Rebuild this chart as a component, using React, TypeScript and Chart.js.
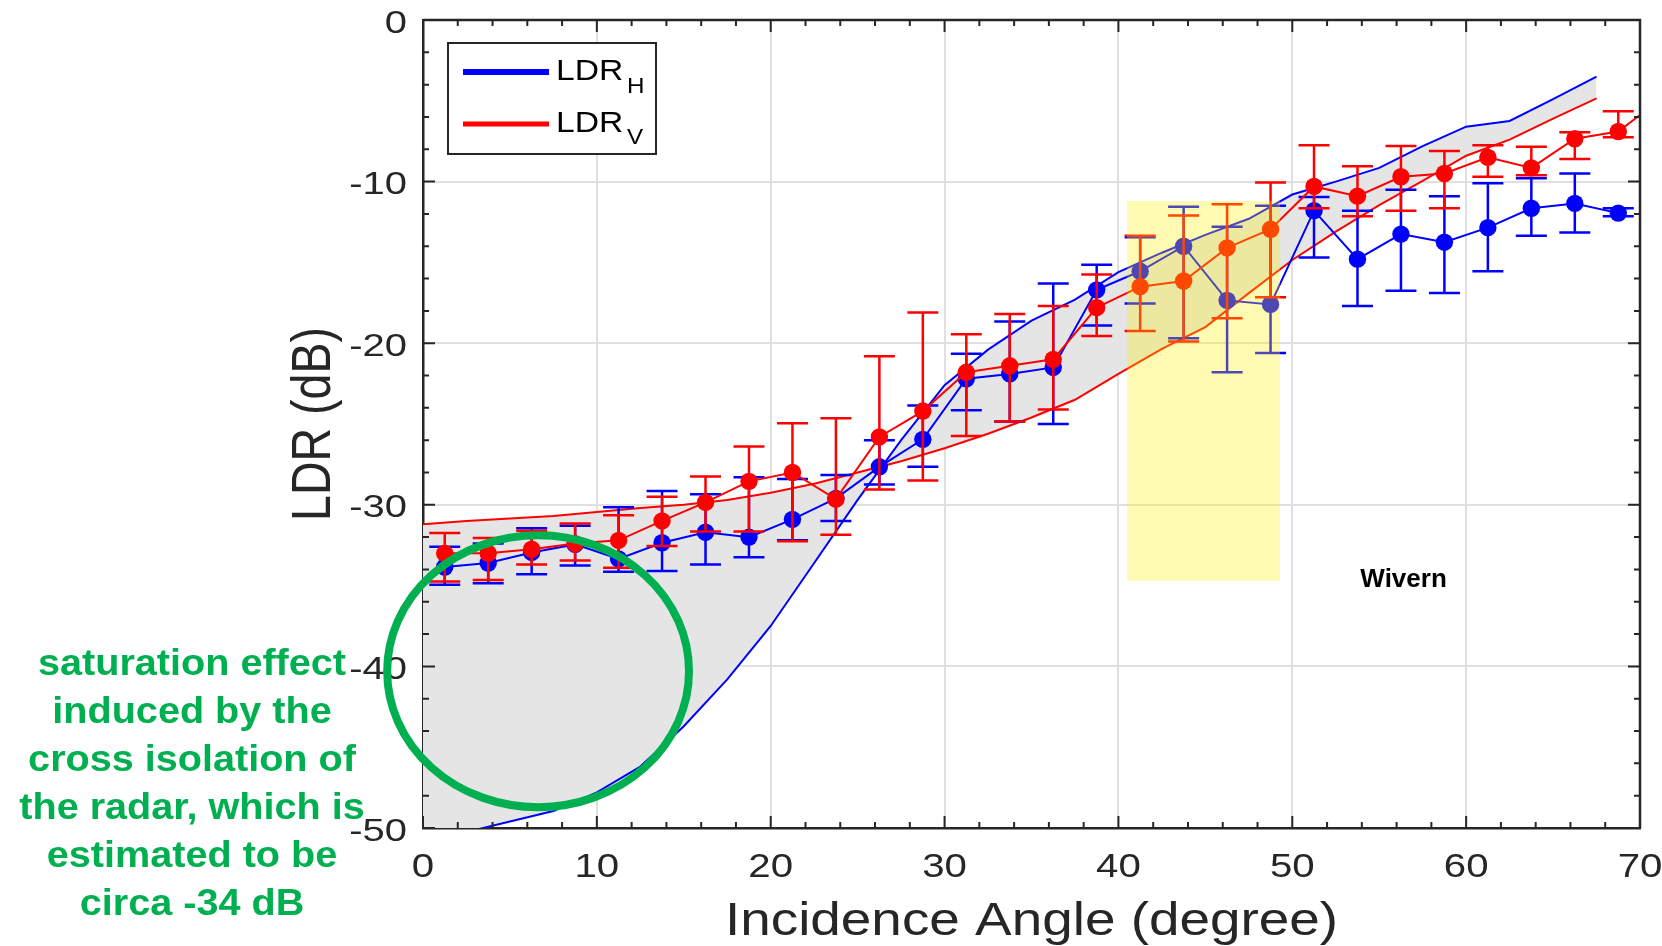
import React, { useEffect, useRef } from 'react';
import { Chart, registerables } from 'chart.js';

Chart.register(...registerables);

// ---------------- data ----------------
const angles = [1.25, 3.75, 6.25, 8.75, 11.25, 13.75, 16.25, 18.75, 21.25, 23.75, 26.25, 28.75, 31.25, 33.75, 36.25, 38.75, 41.25, 43.75, 46.25, 48.75, 51.25, 53.75, 56.25, 58.75, 61.25, 63.75, 66.25, 68.75];

const ldrV = [-33.0, -33.0, -32.75, -32.4, -32.2, -31.0, -29.85, -28.55, -28.0, -29.65, -25.8, -24.2, -21.8, -21.4, -21.0, -17.8, -16.5, -16.15, -14.1, -12.95, -10.3, -10.9, -9.7, -9.5, -8.5, -9.15, -7.35, -6.9];
const ldrVHigh = [-31.75, -32.05, -31.6, -31.15, -30.65, -29.5, -28.25, -26.4, -24.95, -24.65, -20.8, -18.1, -19.45, -18.2, -17.7, -15.75, -13.35, -12.1, -11.4, -10.05, -7.75, -9.05, -7.8, -8.1, -7.75, -7.85, -6.95, -5.65];
const ldrVLow = [-34.75, -34.65, -33.7, -33.45, -33.9, -32.55, -31.65, -31.65, -32.25, -31.85, -29.05, -28.5, -25.75, -24.85, -24.1, -19.55, -19.25, -19.9, -18.45, -17.15, -11.65, -12.15, -11.8, -11.65, -9.7, -9.6, -8.6, -7.25];
const ldrVTailAngle = 71.25;
const ldrVTail = -4.85;

const ldrH = [-33.85, -33.6, -32.95, -32.45, -33.35, -32.35, -31.7, -32.0, -30.9, -29.6, -27.65, -25.95, -22.2, -21.9, -21.5, -16.7, -15.55, -14.0, -17.35, -17.6, -11.8, -14.8, -13.25, -13.75, -12.85, -11.65, -11.35, -11.95];
const ldrHHigh = [-32.6, -32.4, -31.45, -31.3, -30.15, -29.15, -29.35, -28.3, -28.4, -28.15, -26.0, -23.85, -20.65, -18.65, -16.3, -15.15, -13.45, -11.55, -12.8, -11.5, -10.95, -11.8, -10.5, -10.9, -10.1, -9.8, -9.5, -11.65];
const ldrHLow = [-34.95, -34.85, -34.3, -33.75, -34.15, -34.1, -33.7, -33.25, -32.2, -31.0, -28.75, -27.65, -24.15, -24.85, -25.0, -18.9, -17.55, -19.7, -21.8, -20.6, -14.7, -17.7, -16.75, -16.9, -15.55, -13.35, -13.15, -12.15];

const modelAngles = [0, 2.5, 5, 7.5, 10, 12.5, 15, 17.5, 20, 22.5, 25, 27.5, 30, 32.5, 35, 37.5, 40, 42.5, 45, 47.5, 50, 52.5, 55, 57.5, 60, 62.5, 65, 67.5];
const modelH = [-50.9, -50.25, -49.6, -48.95, -47.8, -46.2, -43.7, -40.8, -37.5, -33.6, -29.7, -26.0, -22.6, -20.4, -18.6, -17.3, -15.6, -14.4, -13.3, -12.3, -10.8, -10.0, -9.15, -7.8, -6.6, -6.25, -4.9, -3.5];
const modelV = [-31.2, -31.0, -30.85, -30.7, -30.45, -30.2, -30.0, -29.7, -29.25, -28.7, -28.0, -27.3, -26.5, -25.6, -24.6, -23.5, -21.9, -20.35, -19.0, -16.9, -14.85, -13.1, -11.45, -9.95, -8.4, -7.4, -6.1, -4.85];

const xTicks = [0, 10, 20, 30, 40, 50, 60, 70];
const xTickLabels = ['0', '10', '20', '30', '40', '50', '60', '70'];
const yTicks = [0, -10, -20, -30, -40, -50];
const yTickLabels = ['0', '-10', '-20', '-30', '-40', '-50'];

const xTitle = 'Incidence Angle (degree)';
const yTitle = 'LDR (dB)';
const legendLabels = ['LDR', 'LDR'];
const legendSubs = ['H', 'V'];
const regionLabel = 'Wivern';
const regionLabelAt = [56.4, -35.1];
const regionBox = [40.5, 49.3, -11.2, -34.7]; // x0, x1, yTop, yBottom (data units)
const ellipse = [6.62, -40.3, 8.68, 8.41]; // cx, cy, rx (deg), ry (dB)
const noteLines = ['saturation effect', 'induced by the', 'cross isolation of', 'the radar, which is', 'estimated to be', 'circa -34 dB'];

// ---------------- styles ----------------
const FONT = '"Liberation Sans", Arial, Helvetica, sans-serif';
const AXIS = '#262626';
const BLUE = '#0000ff';
const RED = '#ff0000';
const GREEN = '#00b050';

function txt(ctx: CanvasRenderingContext2D, s: string, x: number, y: number, font: string, color: string, align: CanvasTextAlign, sx: number) {
  ctx.save();
  ctx.font = font;
  ctx.fillStyle = color;
  ctx.textAlign = align;
  ctx.textBaseline = 'alphabetic';
  ctx.translate(x, y);
  ctx.scale(sx, 1);
  ctx.fillText(s, 0, 0);
  ctx.restore();
}

const errorBarPlugin = {
  id: 'errorBars',
  beforeDatasetDraw(chart: any, args: any) {
    const ds = chart.data.datasets[args.index];
    if (!ds.errHigh) return;
    const ctx: CanvasRenderingContext2D = chart.ctx;
    const xs = chart.scales.x, ys = chart.scales.y;
    const a = chart.chartArea;
    ctx.save();
    ctx.beginPath();
    ctx.rect(a.left - 20, a.top, a.right - a.left + 40, a.bottom - a.top);
    ctx.clip();
    ctx.strokeStyle = ds.borderColor;
    ctx.lineWidth = 2.5;
    ctx.beginPath();
    for (let i = 0; i < ds.errHigh.length; i++) {
      const px = xs.getPixelForValue(ds.data[i].x);
      const t = ys.getPixelForValue(ds.errHigh[i]);
      const b = ys.getPixelForValue(ds.errLow[i]);
      ctx.moveTo(px, t); ctx.lineTo(px, b);
      ctx.moveTo(px - 15.5, t); ctx.lineTo(px + 15.5, t);
      ctx.moveTo(px - 15.5, b); ctx.lineTo(px + 15.5, b);
    }
    ctx.stroke();
    ctx.restore();
  },
};

const decorPlugin = {
  id: 'decor',
  afterDatasetsDraw(chart: any) {
    const ctx: CanvasRenderingContext2D = chart.ctx;
    const xs = chart.scales.x, ys = chart.scales.y;
    const { left, right, top, bottom } = chart.chartArea;

    // highlighted region
    const rx0 = xs.getPixelForValue(regionBox[0]);
    const rx1 = xs.getPixelForValue(regionBox[1]);
    const ry0 = ys.getPixelForValue(regionBox[2]);
    const ry1 = ys.getPixelForValue(regionBox[3]);
    ctx.save();
    ctx.fillStyle = 'rgba(255,238,0,0.3)';
    ctx.fillRect(rx0, ry0, rx1 - rx0, ry1 - ry0);
    ctx.restore();

    // region label
    txt(ctx, regionLabel, xs.getPixelForValue(regionLabelAt[0]), ys.getPixelForValue(regionLabelAt[1]), `bold 26px ${FONT}`, '#000', 'center', 1.0);

    // box: top and right lines
    ctx.save();
    ctx.strokeStyle = AXIS;
    ctx.lineWidth = 2.5;
    ctx.beginPath();
    ctx.moveTo(left, top); ctx.lineTo(right, top); ctx.lineTo(right, bottom);
    ctx.stroke();
    // inward ticks
    ctx.lineWidth = 2;
    ctx.beginPath();
    for (let v = 0; v <= 70; v += 2) {
      const px = xs.getPixelForValue(v);
      const len = v % 10 === 0 ? 12 : 6;
      ctx.moveTo(px, bottom); ctx.lineTo(px, bottom - len);
      ctx.moveTo(px, top); ctx.lineTo(px, top + len);
    }
    for (let v = -50; v <= 0; v += 2) {
      const py = ys.getPixelForValue(v);
      const len = v % 10 === 0 ? 12 : 6;
      ctx.moveTo(left, py); ctx.lineTo(left + len, py);
      ctx.moveTo(right, py); ctx.lineTo(right - len, py);
    }
    ctx.stroke();
    ctx.restore();

    // tick labels
    xTicks.forEach((v, i) => {
      txt(ctx, xTickLabels[i], xs.getPixelForValue(v), bottom + 49, `33.5px ${FONT}`, AXIS, 'center', 1.2);
    });
    yTicks.forEach((v, i) => {
      txt(ctx, yTickLabels[i], left - 16, ys.getPixelForValue(v) + 12.5, `32px ${FONT}`, AXIS, 'right', 1.25);
    });

    // axis titles
    txt(ctx, xTitle, (left + right) / 2, bottom + 107, `46.5px ${FONT}`, AXIS, 'center', 1.18);
    ctx.save();
    ctx.translate(330, (top + bottom) / 2);
    ctx.rotate(-Math.PI / 2);
    ctx.scale(1, 1.2);
    ctx.font = `46.5px ${FONT}`;
    ctx.fillStyle = AXIS;
    ctx.textAlign = 'center';
    ctx.textBaseline = 'alphabetic';
    ctx.fillText(yTitle, 0, 0);
    ctx.restore();

    // legend
    ctx.save();
    ctx.fillStyle = '#fff';
    ctx.fillRect(448, 43, 208, 111);
    ctx.strokeStyle = AXIS;
    ctx.lineWidth = 2;
    ctx.strokeRect(448, 43, 208, 111);
    ctx.lineCap = 'butt';
    ctx.strokeStyle = BLUE;
    ctx.lineWidth = 6;
    ctx.beginPath(); ctx.moveTo(463, 72); ctx.lineTo(549, 72); ctx.stroke();
    ctx.strokeStyle = RED;
    ctx.lineWidth = 5;
    ctx.beginPath(); ctx.moveTo(463, 124); ctx.lineTo(549, 124); ctx.stroke();
    ctx.restore();
    txt(ctx, legendLabels[0], 556, 80, `30px ${FONT}`, '#000', 'left', 1.12);
    txt(ctx, legendSubs[0], 627, 93, `22px ${FONT}`, '#000', 'left', 1.1);
    txt(ctx, legendLabels[1], 556, 132, `30px ${FONT}`, '#000', 'left', 1.12);
    txt(ctx, legendSubs[1], 627, 144, `22px ${FONT}`, '#000', 'left', 1.1);

    // green ellipse
    const cx = xs.getPixelForValue(ellipse[0]);
    const cy = ys.getPixelForValue(ellipse[1]);
    const erx = xs.getPixelForValue(ellipse[0] + ellipse[2]) - cx;
    const ery = ys.getPixelForValue(ellipse[1] - ellipse[3]) - cy;
    ctx.save();
    ctx.strokeStyle = GREEN;
    ctx.lineWidth = 8;
    ctx.beginPath();
    ctx.ellipse(cx, cy, erx, ery, 0, 0, Math.PI * 2);
    ctx.stroke();
    ctx.restore();

    // note text
    noteLines.forEach((s, i) => {
      txt(ctx, s, 192, 675 + i * 48, `bold 37px ${FONT}`, GREEN, 'center', 1.07);
    });
  },
};

export default function App() {
  const ref = useRef<HTMLCanvasElement>(null);
  useEffect(() => {
    const canvas = ref.current!;
    const redData = angles.map((a, i) => ({ x: a, y: ldrV[i] }));
    redData.push({ x: ldrVTailAngle, y: ldrVTail });
    const blueData = angles.map((a, i) => ({ x: a, y: ldrH[i] }));
    const chart = new Chart(canvas, {
      type: 'line',
      data: {
        datasets: [
          {
            label: 'LDR_V',
            data: redData,
            borderColor: RED,
            backgroundColor: RED,
            borderWidth: 2,
            pointRadius: (c: any) => (c.dataIndex < angles.length ? 8.7 : 0),
            pointBorderWidth: 0,
            pointBackgroundColor: RED,
            fill: false,
            errHigh: ldrVHigh,
            errLow: ldrVLow,
          } as any,
          {
            label: 'LDR_H',
            data: blueData,
            borderColor: BLUE,
            backgroundColor: BLUE,
            borderWidth: 2,
            pointRadius: 8.7,
            pointBorderWidth: 0,
            pointBackgroundColor: BLUE,
            fill: false,
            errHigh: ldrHHigh,
            errLow: ldrHLow,
          } as any,
          {
            label: 'model H',
            data: modelAngles.map((a, i) => ({ x: a, y: modelH[i] })),
            borderColor: BLUE,
            backgroundColor: 'rgb(229,229,229)',
            borderWidth: 2,
            pointRadius: 0,
            fill: '+1',
          },
          {
            label: 'model V',
            data: modelAngles.map((a, i) => ({ x: a, y: modelV[i] })),
            borderColor: RED,
            borderWidth: 2,
            pointRadius: 0,
            fill: false,
          },
        ],
      },
      options: {
        animation: false,
        responsive: false,
        devicePixelRatio: 1,
        layout: { padding: { left: 423, right: 22, top: 20, bottom: 118 } },
        elements: { line: { tension: 0 } },
        plugins: {
          legend: { display: false },
          tooltip: { enabled: false },
          filler: { drawTime: 'beforeDatasetsDraw' },
        } as any,
        scales: {
          x: {
            type: 'linear',
            min: 0,
            max: 70,
            ticks: { display: false, stepSize: 10 },
            grid: { color: '#e0e0e0', lineWidth: 2, drawTicks: false },
            border: { display: true, color: AXIS, width: 2.5 },
            title: { display: false },
          },
          y: {
            type: 'linear',
            min: -50,
            max: 0,
            ticks: { display: false, stepSize: 10 },
            grid: { color: '#e0e0e0', lineWidth: 2, drawTicks: false },
            border: { display: true, color: AXIS, width: 2.5 },
            title: { display: false },
          },
        },
      },
      plugins: [errorBarPlugin, decorPlugin],
    } as any);
    return () => chart.destroy();
  }, []);
  return (
    <canvas
      ref={ref}
      width={1662}
      height={946}
      style={{ position: 'absolute', left: 0, top: 0, width: 1662, height: 946, display: 'block' }}
    />
  );
}
